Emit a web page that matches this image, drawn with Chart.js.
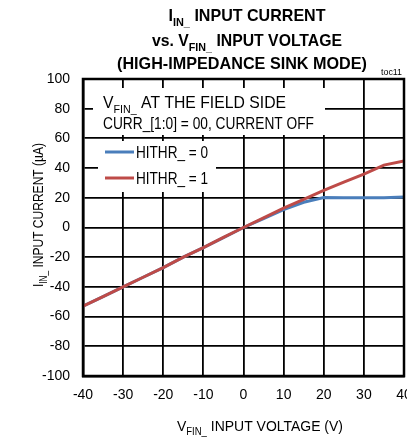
<!DOCTYPE html>
<html>
<head>
<meta charset="utf-8">
<script src="https://cdn.jsdelivr.net/npm/chart.js@4.4.0/dist/chart.umd.min.js"></script>
<style>
  body { margin: 0; background: #fff; }
  canvas { display: block; }
</style>
</head>
<body>
<canvas id="ivChart" width="407" height="438"></canvas>
<script>
const voltage = [-40, -35, -30, -25, -20, -15, -10, -5, 0, 5, 10, 15, 20, 25, 30, 35, 40];
const hithr0 = [-53, -46.5, -40, -33.5, -27, -20, -13.5, -6.8, 0, 6, 12, 17, 20.2, 20, 20, 20, 20.5];
const hithr1 = [-53, -46.5, -40, -33.5, -27, -20, -13.5, -6.6, 0, 6.5, 13, 19, 25, 30.5, 36, 42, 44.8];
const xTicks = [-40, -30, -20, -10, 0, 10, 20, 30, 40];
const yTicks = [-100, -80, -60, -40, -20, 0, 20, 40, 60, 80, 100];

const FONT = '"Liberation Sans", Arial, sans-serif';

// draws text parts like [['V'], ['FIN_', true], [' INPUT']] with subscripts
const drawRich = (ctx, parts, x, y, size, bold, align, fitWidth) => {
  const w = bold ? 'bold ' : '';
  const widths = parts.map(([t, sub]) => {
    ctx.font = w + (sub ? size * 0.68 : size) + 'px ' + FONT;
    return ctx.measureText(t).width;
  });
  const total = widths.reduce((a, b) => a + b, 0);
  const sx = fitWidth ? fitWidth / total : 1;
  let start = x;
  if (align === 'center') start = x - total * sx / 2;
  ctx.save();
  ctx.translate(start, y);
  ctx.scale(sx, 1);
  ctx.textBaseline = 'alphabetic';
  ctx.textAlign = 'left';
  ctx.fillStyle = '#000';
  let cx = 0;
  parts.forEach(([t, sub], i) => {
    ctx.font = w + (sub ? size * 0.68 : size) + 'px ' + FONT;
    ctx.fillText(t, cx, sub ? size * 0.28 : 0);
    cx += widths[i];
  });
  ctx.restore();
};

const decorPlugin = {
  id: 'decor',
  beforeDatasetsDraw(chart) {
    const ctx = chart.ctx;
    ctx.save();
    ctx.fillStyle = '#fff';
    ctx.fillRect(93, 88, 232, 47);
    ctx.fillRect(98, 141, 118, 51);
    ctx.restore();
    drawRich(ctx, [['V'], ['FIN_', true], [' AT THE FIELD SIDE']], 103, 108, 17, false, 'left', 183);
    drawRich(ctx, [['CURR_[1:0] = 00, CURRENT OFF']], 103, 129, 17, false, 'left', 211);

    const items = [['HITHR_ = 0', '#4a7ebb', 152], ['HITHR_ = 1', '#be4b48', 178]];
    items.forEach(([label, color, y]) => {
      ctx.save();
      ctx.strokeStyle = color;
      ctx.lineWidth = 3;
      ctx.beginPath();
      ctx.moveTo(105, y);
      ctx.lineTo(134, y);
      ctx.stroke();
      ctx.restore();
      drawRich(ctx, [[label]], 136, y + 6, 17, false, 'left', 72);
    });
  },
  afterDraw(chart) {
    const ctx = chart.ctx;
    const a = chart.chartArea;
    ctx.save();
    ctx.strokeStyle = '#000';
    ctx.lineWidth = 2.5;
    ctx.strokeRect(a.left, a.top, a.right - a.left, a.bottom - a.top);
    ctx.restore();

    drawRich(ctx, [['I'], ['IN_', true], [' INPUT CURRENT']], 247, 21, 17, true, 'center', 157);
    drawRich(ctx, [['vs. V'], ['FIN_', true], [' INPUT VOLTAGE']], 247, 46, 17, true, 'center', 190);
    drawRich(ctx, [['(HIGH-IMPEDANCE SINK MODE)']], 242, 69, 17, true, 'center', 250);
    drawRich(ctx, [['toc11']], 381, 75, 9, false, 'left', 21);

    drawRich(ctx, [['V'], ['FIN_', true], [' INPUT VOLTAGE (V)']], 260, 431, 15, false, 'center', 166);

    ctx.save();
    ctx.translate(43, 215);
    ctx.rotate(-Math.PI / 2);
    drawRich(ctx, [['I'], ['IN_', true], [' INPUT CURRENT (µA)']], 0, 0, 15, false, 'center', 144);
    ctx.restore();
  }
};

const ctxEl = document.getElementById('ivChart');
new Chart(ctxEl, {
  type: 'line',
  data: {
    datasets: [
      {
        label: 'HITHR_ = 0',
        data: voltage.map((v, i) => ({ x: v, y: hithr0[i] })),
        borderColor: '#4a7ebb',
        borderWidth: 3,
        pointRadius: 0,
        tension: 0,
        order: 1,
      },
      {
        label: 'HITHR_ = 1',
        data: voltage.map((v, i) => ({ x: v, y: hithr1[i] })),
        borderColor: '#be4b48',
        borderWidth: 3,
        pointRadius: 0,
        tension: 0,
        order: 0,
      },
    ],
  },
  options: {
    responsive: false,
    animation: false,
    layout: { padding: { top: 79, right: 3, left: 0, bottom: 0 } },
    plugins: {
      legend: { display: false },
      tooltip: { enabled: false },
    },
    scales: {
      x: {
        type: 'linear',
        min: -40,
        max: 40,
        afterBuildTicks: (scale) => { scale.ticks = xTicks.map(v => ({ value: v })); },
        afterFit: (scale) => { scale.height = 62; scale.paddingLeft = 0; scale.paddingRight = 0; },
        grid: { color: '#000', lineWidth: 1.8, drawTicks: false },
        border: { color: '#000', width: 2.5 },
        ticks: { color: '#000', padding: 11, maxRotation: 0, font: { family: FONT, size: 14 } },
      },
      y: {
        type: 'linear',
        min: -100,
        max: 100,
        afterBuildTicks: (scale) => { scale.ticks = yTicks.map(v => ({ value: v })); },
        afterFit: (scale) => { scale.width = 83; scale.paddingTop = 0; scale.paddingBottom = 0; },
        grid: { color: '#000', lineWidth: 1.8, drawTicks: false },
        border: { color: '#000', width: 2.5 },
        ticks: { color: '#000', padding: 13, font: { family: FONT, size: 14 } },
      },
    },
  },
  plugins: [decorPlugin],
});
</script>
</body>
</html>
